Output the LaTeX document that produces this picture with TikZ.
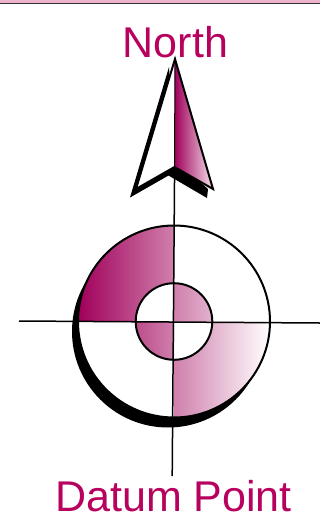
\documentclass[tikz,border=0pt]{standalone}
\usepackage{fontspec}
\setmainfont{Liberation Sans}
\definecolor{dk}{HTML}{A0005A}
\definecolor{tx}{HTML}{B8005F}
\definecolor{band}{HTML}{EBB4CC}
\tikzset{
  lbl/.style={text=tx,font=\fontsize{43}{43}\selectfont,anchor=base,inner sep=0pt},
  ink/.style={draw=black,line width=2pt},
  hair/.style={draw=black,line width=1.5pt},
  fan/.style={left color=dk,right color=white,draw=none}
}
\begin{document}
\begin{tikzpicture}[x=1pt,y=-1pt]
\useasboundingbox (0,0) rectangle (320,517);
\fill[white] (0,0) rectangle (320,517);
\fill[band] (0,0) rectangle (320,2.5);
\fill[black!80] (0,2.5) rectangle (320,4.3);
% datum target
\coordinate (c) at (174,321.5);
\coordinate (cs) at (168,331.5);
\fill[black] (cs) circle[radius=96pt];
\fill[white] (c) circle[radius=96pt];
\begin{scope}[even odd rule]
  \clip (c) circle[radius=96pt] (c) circle[radius=38.3pt];
  \begin{scope}[nonzero rule]
  \clip (78,225) rectangle (174,321.5) (174,321.5) rectangle (271,418);
  \shade[fan] (78,225) rectangle (270,418);
  \end{scope}
\end{scope}
\begin{scope}
  \clip (174,283) rectangle (213,321.5) (135,321.5) rectangle (174,360);
  \clip (c) circle[radius=38.3pt];
  \shade[fan] (78,225) rectangle (270,418);
\end{scope}
\draw[ink] (c) circle[radius=96pt];
\draw[ink] (c) circle[radius=38.3pt];
% axes
\coordinate (w) at (19,321);
\coordinate (e) at (320,323);
\coordinate (n) at (174.6,170);
\coordinate (s) at (172.2,476);
\draw[hair] (w) -- (e);
\draw[hair] (n) -- (s);
% north arrow
\coordinate (tip) at (175,59);
\coordinate (al) at (136,189);
\coordinate (notch) at (174.5,167);
\coordinate (ar) at (213,189);
\fill[black] (169,67) -- (130,197.5) -- (168.5,175.5) -- (207,198) -- (208,189) -- (175,160) -- cycle;
\fill[white] (tip) -- (al) -- (notch) -- cycle;
\shade[left color=dk,right color=dk!12] (tip) -- (notch) -- (ar) -- cycle;
\draw[ink,line join=miter] (tip) -- (al) -- (notch) -- (ar) -- cycle;
\draw[line width=1pt] (tip) -- (notch);
% labels
\node[lbl] (north) at (175.5,57) {North};
\node[lbl] (datum) at (173.5,511.5) {Datum Point};
\end{tikzpicture}
\end{document}
